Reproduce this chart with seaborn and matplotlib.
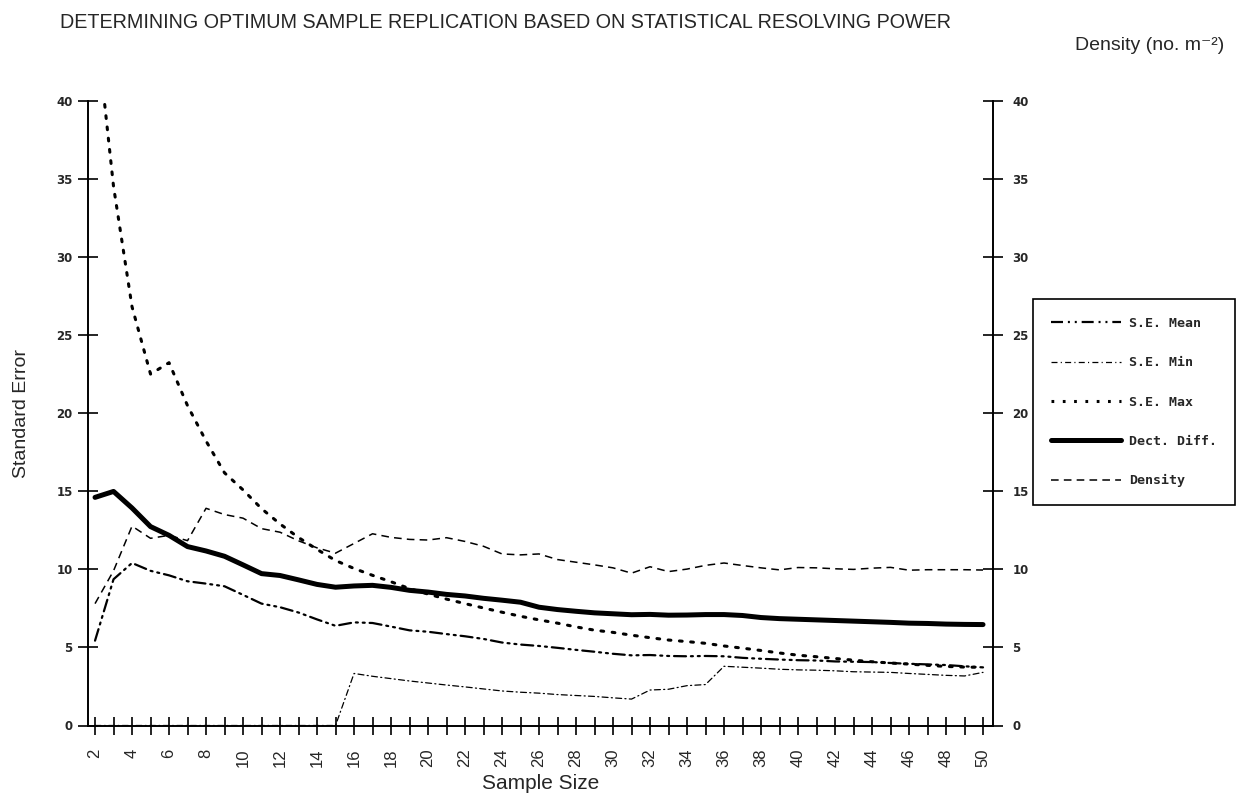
import matplotlib
matplotlib.use("Agg")
import matplotlib.pyplot as plt
import matplotlib.lines as mlines
import numpy as np
import pandas as pd
import seaborn as sns

# ---------------- data ----------------
sample_size = list(range(2, 51))

se_mean = [5.43, 9.36, 10.4, 9.9, 9.61, 9.23, 9.08, 8.91, 8.36, 7.8,
           7.57, 7.23, 6.79, 6.38, 6.6, 6.56, 6.33, 6.09, 6.0, 5.85,
           5.71, 5.54, 5.31, 5.18, 5.09, 4.97, 4.84, 4.72, 4.59, 4.49,
           4.51, 4.45, 4.43, 4.45, 4.43, 4.33, 4.27, 4.22, 4.18, 4.16,
           4.1, 4.08, 4.06, 4.0, 3.95, 3.91, 3.87, 3.79, 3.72]

se_min = [0, 0, 0, 0, 0, 0, 0, 0, 0, 0,
          0, 0, 0, 0, 3.33, 3.15, 3.0, 2.85, 2.72, 2.59,
          2.47, 2.34, 2.21, 2.13, 2.07, 1.98, 1.92, 1.86, 1.77, 1.69,
          2.27, 2.32, 2.55, 2.62, 3.79, 3.73, 3.67, 3.6, 3.56, 3.54,
          3.5, 3.44, 3.42, 3.4, 3.33, 3.27, 3.21, 3.17, 3.4]

se_max = [45.5, 34.5, 26.8, 22.49, 23.22, 20.47, 18.21, 16.17, 15.08, 13.88,
          12.9, 12.03, 11.27, 10.56, 10.05, 9.61, 9.2, 8.76, 8.41, 8.09,
          7.8, 7.52, 7.25, 6.99, 6.76, 6.55, 6.31, 6.1, 5.96, 5.78,
          5.62, 5.47, 5.37, 5.26, 5.09, 4.95, 4.8, 4.64, 4.5, 4.4,
          4.29, 4.18, 4.08, 4.0, 3.93, 3.85, 3.78, 3.74, 3.72]

dect_diff = [14.6, 14.98, 13.92, 12.73, 12.17, 11.45, 11.17, 10.83, 10.28, 9.72,
             9.6, 9.32, 9.03, 8.85, 8.93, 8.97, 8.84, 8.65, 8.54, 8.39,
             8.29, 8.14, 8.02, 7.89, 7.57, 7.42, 7.31, 7.21, 7.15, 7.09,
             7.11, 7.06, 7.07, 7.1, 7.1, 7.04, 6.91, 6.84, 6.8, 6.76,
             6.72, 6.68, 6.64, 6.6, 6.55, 6.53, 6.49, 6.47, 6.46]

density = [7.8, 9.9, 12.76, 11.98, 12.17, 11.83, 13.9, 13.5, 13.27, 12.6,
           12.37, 11.82, 11.37, 11.03, 11.65, 12.27, 12.04, 11.91, 11.87, 12.02,
           11.78, 11.47, 10.98, 10.92, 10.98, 10.62, 10.45, 10.28, 10.09, 9.75,
           10.16, 9.85, 10.01, 10.25, 10.4, 10.24, 10.09, 9.96, 10.11, 10.09,
           10.03, 9.99, 10.07, 10.12, 9.94, 9.97, 9.97, 9.97, 9.95]

series_labels = ["S.E. Mean", "S.E. Min", "S.E. Max", "Dect. Diff.", "Density"]
y_ticks = [0, 5, 10, 15, 20, 25, 30, 35, 40]
x_label_ticks = list(range(2, 51, 2))

title = "DETERMINING OPTIMUM SAMPLE REPLICATION BASED ON STATISTICAL RESOLVING POWER"
right_title = "Density (no. m\u207b\u00b2)"

df = pd.DataFrame({"n": sample_size, "S.E. Mean": se_mean, "S.E. Min": se_min,
                   "S.E. Max": se_max, "Dect. Diff.": dect_diff, "Density": density})

# ---------------- style ----------------
sns.set_theme(style="white")
plt.rcParams["font.family"] = ["DejaVu Sans"]
narrow = ["Liberation Sans", "DejaVu Sans"]

fig = plt.figure(figsize=(12.41, 8.07), dpi=100)
ax = fig.add_axes([88 / 1241, 81.5 / 807, 905 / 1241, 625 / 807])
ax2 = ax.twinx()

styles = {
    "S.E. Mean": dict(lw=1.6, linestyle=(0, (5.4, 2.2, 0.9, 2.2, 0.9, 2.2))),
    "S.E. Min": dict(lw=0.9, linestyle=(0, (4.8, 2.6, 0.9, 2.6))),
    "S.E. Max": dict(lw=2.2, linestyle=(0, (0.9, 2.8))),
    "Dect. Diff.": dict(lw=3.6, linestyle="-"),
    "Density": dict(lw=1.1, linestyle=(0, (5.0, 3.4))),
}

for name in ["S.E. Mean", "S.E. Min", "S.E. Max", "Dect. Diff."]:
    sns.lineplot(data=df, x="n", y=name, ax=ax, color="black",
                 solid_capstyle="round", dash_capstyle="round", **styles[name])
sns.lineplot(data=df, x="n", y="Density", ax=ax2, color="black", **styles["Density"])

for a in (ax, ax2):
    a.set_xlim(1.62, 50.54)
    a.set_ylim(0, 40)
    a.set_yticks(y_ticks)
    a.set_ylabel("")
    a.set_xlabel("")
    for s in a.spines.values():
        s.set_color("black")
        s.set_linewidth(1.2)
    a.spines["top"].set_visible(False)

ax.set_yticklabels([str(v) for v in y_ticks], fontsize=8.5, fontweight="bold")
ax2.set_yticklabels([str(v) for v in y_ticks], fontsize=8.5, fontweight="bold")
ax.tick_params(axis="y", direction="inout", length=14, width=1.2, pad=4, color="black", left=True)
ax2.tick_params(axis="y", direction="inout", length=14, width=1.2, pad=7, color="black", right=True)

ax.set_xticks(sample_size, minor=True)
ax.set_xticks(x_label_ticks)
ax.set_xticklabels([str(v) for v in x_label_ticks], rotation=90, fontsize=12, family=narrow)
ax.tick_params(axis="x", which="both", direction="inout", length=13, width=1.2,
               color="black", bottom=True, pad=10)

ax.set_xlabel("Sample Size", fontsize=15, family=narrow, labelpad=5)
ax.set_ylabel("Standard Error", fontsize=14, family=narrow, labelpad=19)

fig.text(506 / 1241, 1 - 23 / 807, title, ha="center", va="center", fontsize=14.2, family=narrow)
fig.text(1150 / 1241, 1 - 46 / 807, right_title, ha="center", va="center", fontsize=14, family=narrow)

# legend
handles = [mlines.Line2D([], [], color="black", **styles[n]) for n in series_labels]
leg = fig.legend(handles, series_labels, loc="upper left",
                 bbox_to_anchor=(1033 / 1241, 1 - 299 / 807),
                 prop={"family": "DejaVu Sans Mono", "weight": "bold", "size": 9.5},
                 frameon=True, fancybox=False, edgecolor="black", framealpha=1,
                 handlelength=5.3, handletextpad=0.65, labelspacing=2.0,
                 borderpad=1.35, borderaxespad=0)
leg.get_frame().set_linewidth(1.2)

fig.savefig("out.png", dpi=100)
